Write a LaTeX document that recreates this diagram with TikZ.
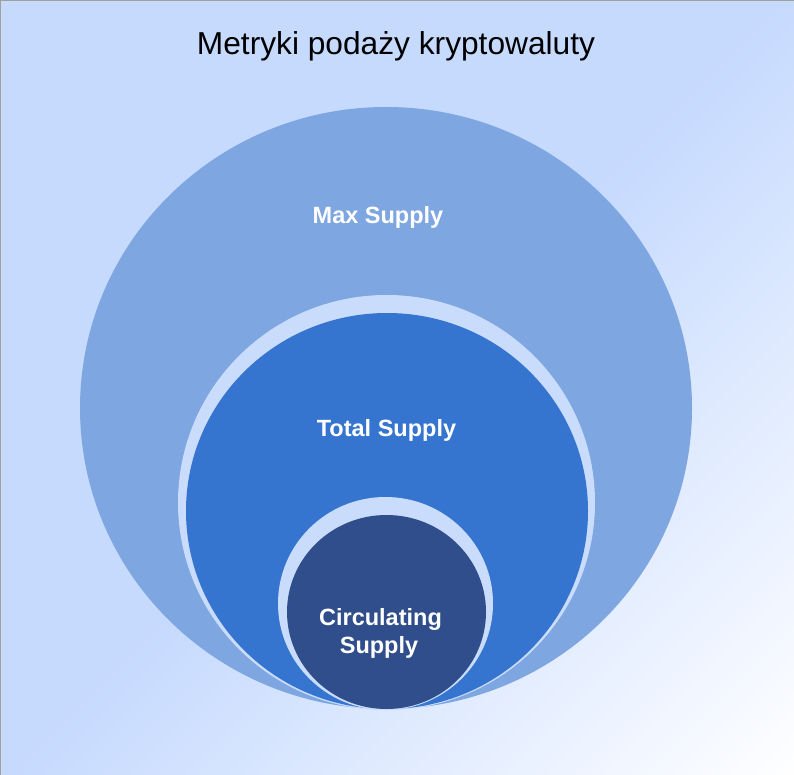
\documentclass[tikz,border=0pt]{standalone}
\usepackage{fontspec}
\setmainfont{Liberation Sans}
\definecolor{bgblue}{HTML}{C6DAFE}
\definecolor{halo}{HTML}{CADCFC}
\definecolor{maxc}{HTML}{7EA6E0}
\definecolor{totc}{HTML}{3575D0}
\definecolor{circc}{HTML}{2F4E8B}
\definecolor{framec}{HTML}{A0A0A0}
\pgfdeclarehorizontalshading{bgshade}{100bp}{color(0bp)=(bgblue); color(50bp)=(bgblue); color(86bp)=(white); color(100bp)=(white)}
\tikzset{
  lbl/.style={text=white, font=\fontsize{23.5}{28}\selectfont\bfseries, anchor=base, inner sep=0pt, align=center},
  titlestyle/.style={text=black, font=\fontsize{31.7}{36}\selectfont, anchor=base, inner sep=0pt}
}
\begin{document}
\begin{tikzpicture}[x=1pt,y=-1pt]
\useasboundingbox (0,0) rectangle (794,775);
\shade[shading=bgshade, shading angle=-45] (0,0) rectangle (794,775);
\draw[framec, line width=1pt] (0.5,775) -- (0.5,0.5) -- (794,0.5);
% circles
\fill[maxc] (386,408) ellipse [x radius=306, y radius=301];
\fill[halo] (386.5,502.5) ellipse [x radius=208.5, y radius=207.5];
\fill[totc] (387,511) ellipse [x radius=201, y radius=198];
\fill[halo] (385.5,603.5) ellipse [x radius=107.5, y radius=106.5];
\fill[circc] (386.5,612) ellipse [x radius=99.5, y radius=97];
% texts
\node[titlestyle] (title) at (396,55) {Metryki podaży kryptowaluty};
\node[lbl] (max) at (378,224) {Max Supply};
\node[lbl] (total) at (386.5,436) {Total Supply};
\node[lbl] (circ1) at (380.5,625) {Circulating};
\node[lbl] (circ2) at (379,653) {Supply};
\end{tikzpicture}
\end{document}
